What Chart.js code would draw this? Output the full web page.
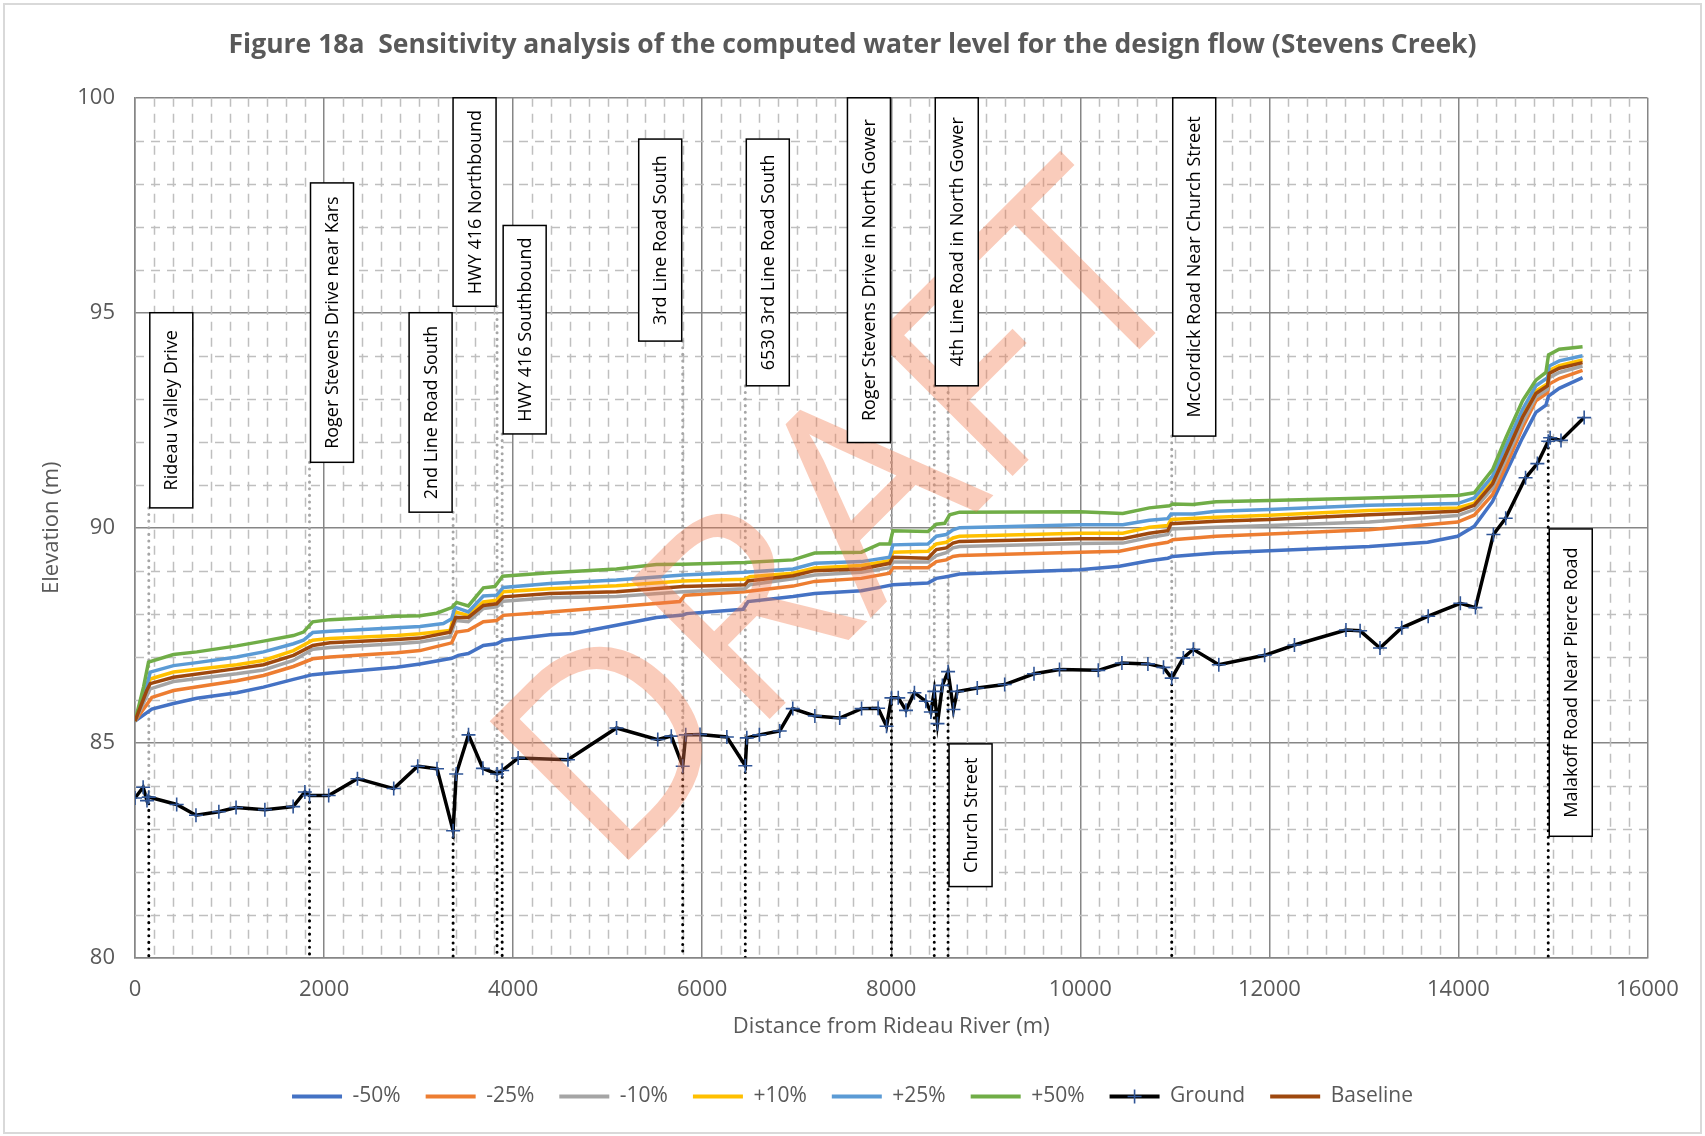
<!DOCTYPE html>
<html>
<head>
<meta charset="utf-8">
<script src="https://cdn.jsdelivr.net/npm/chart.js@4.4.0/dist/chart.umd.min.js"></script>
<style>
  html, body { margin: 0; padding: 0; background: #fff; }
</style>
</head>
<body>
<canvas id="profile" width="1705" height="1136"></canvas>
<script>
// water surface profiles, [distance (m), elevation (m)]
const minus50 = [[0,85.5],[178,85.78],[407,85.91],[654,86.03],[1077,86.16],[1359,86.29],[1676,86.47],[1880,86.58],[2063,86.62],[2768,86.75],[3015,86.83],[3350,86.96],[3420,87.03],[3526,87.07],[3685,87.26],[3826,87.3],[3896,87.38],[4389,87.51],[4635,87.54],[5093,87.73],[5516,87.91],[5798,87.97],[5834,88.0],[6433,88.1],[6486,88.28],[6961,88.4],[7190,88.47],[7684,88.53],[7877,88.61],[8018,88.67],[8388,88.71],[8477,88.82],[8582,88.86],[8723,88.92],[9991,89.02],[10414,89.1],[10731,89.23],[10925,89.29],[10978,89.33],[11436,89.41],[12000,89.46],[13057,89.56],[13674,89.66],[13991,89.8],[14167,90.03],[14361,90.61],[14502,91.27],[14678,92.09],[14819,92.68],[14925,92.85],[14953,93.06],[15066,93.24],[15313,93.49]];
const minus25 = [[0,85.5],[178,86.05],[407,86.21],[1077,86.44],[1359,86.56],[1676,86.77],[1880,86.95],[2063,86.99],[2768,87.09],[3015,87.14],[3350,87.32],[3402,87.57],[3526,87.61],[3685,87.81],[3826,87.84],[3896,87.96],[4389,88.04],[5093,88.16],[5763,88.28],[5816,88.43],[6450,88.51],[6961,88.64],[7190,88.75],[7684,88.82],[7983,88.94],[8018,89.07],[8388,89.07],[8477,89.21],[8582,89.25],[8653,89.33],[8723,89.35],[9991,89.43],[10414,89.45],[10731,89.59],[10925,89.66],[10978,89.72],[11436,89.8],[12000,89.85],[13057,89.95],[13991,90.13],[14167,90.29],[14361,90.77],[14502,91.43],[14678,92.33],[14819,92.95],[14943,93.14],[14960,93.34],[15066,93.47],[15313,93.66]];
const minus10 = [[0,85.5],[161,86.25],[407,86.42],[1077,86.6],[1359,86.69],[1676,86.91],[1880,87.17],[2063,87.21],[2768,87.3],[3015,87.34],[3332,87.46],[3392,87.84],[3526,87.81],[3685,88.12],[3826,88.16],[3896,88.29],[4389,88.37],[5093,88.4],[5798,88.51],[6450,88.58],[6503,88.67],[6961,88.81],[7190,88.9],[7684,88.96],[7983,89.07],[8018,89.2],[8388,89.2],[8477,89.35],[8582,89.42],[8653,89.53],[8723,89.56],[9991,89.63],[10449,89.64],[10731,89.77],[10925,89.84],[10960,89.97],[11436,90.01],[12000,90.05],[13057,90.13],[13991,90.28],[14167,90.42],[14361,90.92],[14502,91.59],[14678,92.44],[14819,93.04],[14943,93.22],[14960,93.49],[15066,93.61],[15313,93.76]];
const plus10 = [[0,85.5],[161,86.48],[407,86.64],[1077,86.81],[1359,86.91],[1676,87.14],[1880,87.38],[2063,87.42],[2768,87.49],[3015,87.53],[3332,87.61],[3385,88.04],[3526,87.96],[3685,88.27],[3826,88.31],[3896,88.51],[4389,88.58],[5093,88.65],[5798,88.76],[6450,88.8],[6503,88.86],[6961,88.94],[7190,89.06],[7684,89.12],[7983,89.23],[8018,89.43],[8388,89.45],[8477,89.62],[8582,89.66],[8653,89.76],[8723,89.8],[9991,89.87],[10449,89.87],[10731,90.01],[10925,90.05],[10960,90.19],[11436,90.24],[12000,90.29],[13057,90.4],[13991,90.46],[14167,90.57],[14361,91.08],[14502,91.78],[14678,92.64],[14819,93.18],[14943,93.35],[14960,93.66],[15066,93.77],[15313,93.9]];
const plus25 = [[0,85.5],[90,86.02],[161,86.64],[407,86.79],[654,86.86],[1077,86.99],[1359,87.11],[1676,87.3],[1782,87.38],[1880,87.56],[2063,87.59],[2416,87.63],[2768,87.67],[3015,87.7],[3262,87.77],[3350,87.88],[3385,88.15],[3526,88.04],[3685,88.41],[3826,88.43],[3896,88.61],[4389,88.7],[5093,88.78],[5798,88.9],[6450,88.96],[6961,89.04],[7190,89.17],[7684,89.21],[7983,89.31],[8018,89.6],[8388,89.62],[8477,89.8],[8582,89.84],[8653,89.95],[8723,90.0],[9991,90.07],[10449,90.07],[10731,90.17],[10925,90.21],[10960,90.32],[11190,90.32],[11436,90.38],[12000,90.42],[13057,90.52],[13991,90.56],[14167,90.69],[14361,91.2],[14502,91.9],[14678,92.75],[14819,93.3],[14943,93.49],[14960,93.76],[15066,93.88],[15313,94.0]];
const plus50 = [[0,85.5],[90,86.29],[143,86.87],[407,87.05],[654,87.11],[866,87.18],[1077,87.25],[1359,87.36],[1676,87.49],[1782,87.57],[1880,87.81],[2063,87.86],[2416,87.9],[2768,87.94],[3015,87.95],[3191,88.01],[3350,88.14],[3402,88.26],[3526,88.18],[3685,88.6],[3807,88.63],[3889,88.87],[4389,88.95],[5093,89.04],[5516,89.14],[5798,89.15],[6450,89.19],[6961,89.25],[7190,89.41],[7684,89.43],[7877,89.62],[7983,89.62],[8018,89.93],[8388,89.91],[8477,90.08],[8565,90.1],[8618,90.3],[8723,90.36],[9991,90.37],[10449,90.33],[10731,90.46],[10943,90.51],[10978,90.55],[11190,90.54],[11436,90.6],[12000,90.63],[13057,90.69],[13991,90.75],[14167,90.81],[14361,91.35],[14502,92.09],[14678,92.95],[14819,93.43],[14925,93.61],[14953,94.02],[15066,94.15],[15313,94.21]];
const baseline = [[0,85.5],[124,86.21],[161,86.37],[407,86.52],[1077,86.72],[1359,86.81],[1676,87.03],[1880,87.26],[2063,87.32],[2768,87.4],[3015,87.43],[3332,87.57],[3392,87.91],[3526,87.91],[3685,88.19],[3826,88.23],[3896,88.39],[4389,88.47],[5093,88.51],[5798,88.63],[6450,88.67],[6486,88.76],[6961,88.88],[7190,89.0],[7684,89.04],[7983,89.17],[8018,89.31],[8388,89.29],[8477,89.49],[8582,89.53],[8653,89.64],[8723,89.68],[9991,89.74],[10449,89.74],[10731,89.87],[10925,89.93],[10960,90.09],[11436,90.15],[12000,90.19],[13057,90.3],[13991,90.38],[14167,90.52],[14361,91.02],[14502,91.7],[14678,92.57],[14819,93.12],[14943,93.3],[14960,93.59],[15066,93.71],[15313,93.84]];
const ground = [[0,83.71],[86,83.96],[127,83.65],[146,83.73],[441,83.56],[645,83.31],[887,83.39],[1069,83.49],[1374,83.44],[1673,83.51],[1797,83.85],[1846,83.77],[2049,83.77],[2353,84.16],[2737,83.93],[2991,84.45],[3195,84.39],[3365,82.95],[3398,84.27],[3528,85.18],[3680,84.4],[3830,84.27],[3884,84.35],[4053,84.64],[4580,84.6],[5094,85.34],[5530,85.07],[5673,85.15],[5794,84.45],[5826,85.18],[5977,85.19],[6261,85.13],[6456,84.46],[6472,85.11],[6605,85.18],[6820,85.27],[6958,85.79],[7192,85.62],[7455,85.57],[7686,85.79],[7861,85.8],[7950,85.38],[8002,86.04],[8074,86.04],[8156,85.75],[8245,86.16],[8366,85.96],[8419,85.71],[8455,86.19],[8489,85.44],[8541,86.33],[8601,86.65],[8658,85.77],[8698,86.19],[8910,86.27],[9200,86.35],[9510,86.6],[9780,86.7],[10190,86.68],[10440,86.85],[10715,86.83],[10880,86.75],[10967,86.5],[11090,86.97],[11195,87.17],[11465,86.81],[11950,87.03],[12265,87.27],[12810,87.62],[12960,87.6],[13170,87.2],[13400,87.67],[13680,87.94],[14020,88.24],[14180,88.14],[14370,89.84],[14500,90.22],[14710,91.16],[14835,91.49],[14950,92.01],[14970,92.09],[15085,92.03],[15330,92.56]];

// crossings along the creek
const structNames = ['Rideau Valley Drive', 'Roger Stevens Drive near Kars', '2nd Line Road South', 'HWY 416 Northbound', 'HWY 416 Southbound', '3rd Line Road South', '6530 3rd Line Road South', 'Roger Stevens Drive in North Gower', '4th Line Road in North Gower', 'Church Street', 'McCordick Road Near Church Street', 'Malakoff Road Near Pierce Road'];
const structStations = [146, 1846, 3365, 3830, 3884, 5794, 6456, 8002, 8455, 8601, 10967, 14950];
const structGround = [83.73, 83.77, 82.95, 84.27, 84.35, 84.45, 84.46, 86.04, 86.19, 86.65, 86.5, 92.01];
const structTop = [90.46, 91.52, 90.36, 95.15, 92.18, 94.34, 93.3, 91.98, 93.3, 93.3, 92.13, 93.0];

const xTicks = [0, 2000, 4000, 6000, 8000, 10000, 12000, 14000, 16000];
const yTicks = [80, 85, 90, 95, 100];

// label boxes: side of the line, box bottom / top elevation
const labelBoxes = [
  { side: 'R', lo: 90.46, hi: 95.0 },
  { side: 'R', lo: 91.52, hi: 98.02 },
  { side: 'L', lo: 90.36, hi: 95.0 },
  { side: 'L', lo: 95.15, hi: 100 },
  { side: 'R', lo: 92.18, hi: 97.03 },
  { side: 'L', lo: 94.34, hi: 99.04 },
  { side: 'R', lo: 93.3, hi: 99.04 },
  { side: 'L', lo: 91.98, hi: 100 },
  { side: 'R', lo: 93.3, hi: 100 },
  { side: 'R', lo: 81.65, hi: 84.97 },
  { side: 'R', lo: 92.13, hi: 100 },
  { side: 'R', lo: 82.82, hi: 89.97 }
];

const FONT = '"Open Sans", "Noto Sans", sans-serif';
const toXY = arr => arr.map(p => ({ x: p[0], y: p[1] }));

function profile(label, data, color, order) {
  return { label, data: toXY(data), borderColor: color, backgroundColor: color,
    borderWidth: 3.5, pointRadius: 0, tension: 0, order };
}

const datasets = [
  profile('-50%', minus50, '#4472C4', 8),
  profile('-25%', minus25, '#ED7D31', 7),
  profile('-10%', minus10, '#A5A5A5', 6),
  profile('+10%', plus10, '#FFC000', 5),
  profile('+25%', plus25, '#5B9BD5', 4),
  profile('+50%', plus50, '#70AD47', 3),
  { label: 'Ground', data: toXY(ground), borderColor: '#000', backgroundColor: '#000',
    borderWidth: 3.5, tension: 0, order: 2, pointStyle: 'cross', pointRadius: 7,
    pointBorderColor: '#2F5597', pointBackgroundColor: '#2F5597', pointBorderWidth: 1.6 },
  profile('Baseline', baseline, '#9E480E', 1)
];

structStations.forEach((st, i) => {
  datasets.push({ label: 'deck' + i, data: [{ x: st, y: structTop[i] }, { x: st, y: structGround[i] }],
    borderColor: '#A6A6A6', borderWidth: 3, borderDash: [0.1, 6.5], borderCapStyle: 'round',
    pointRadius: 0, order: 20 });
  datasets.push({ label: 'pier' + i, data: [{ x: st, y: structGround[i] }, { x: st, y: 80 }],
    borderColor: '#000', borderWidth: 3, borderDash: [0.1, 6.5], borderCapStyle: 'round',
    pointRadius: 0, order: 19 });
});

// dashed minor grid
const minorGrid = {
  id: 'minorGrid',
  beforeDatasetsDraw(chart) {
    const { ctx, chartArea: a, scales: { x, y } } = chart;
    ctx.save();
    ctx.strokeStyle = '#BFBFBF';
    ctx.lineWidth = 1.5;
    ctx.setLineDash([9, 7]);
    ctx.beginPath();
    for (let v = 200; v < 16000; v += 200) {
      if (v % 2000 === 0) continue;
      const px = Math.round(x.getPixelForValue(v)) + 0.5;
      ctx.moveTo(px, a.top); ctx.lineTo(px, a.bottom);
    }
    for (let v = 81; v < 100; v++) {
      if (v % 5 === 0) continue;
      const py = Math.round(y.getPixelForValue(v)) + 0.5;
      ctx.moveTo(a.left, py); ctx.lineTo(a.right, py);
    }
    ctx.stroke();
    ctx.restore();
  }
};

// watermark and crossing labels
const overlays = {
  id: 'overlays',
  afterDatasetsDraw(chart) {
    const { ctx, scales: { x, y } } = chart;
    ctx.save();
    ctx.translate(836, 514);
    ctx.rotate(-45 * Math.PI / 180);
    ctx.font = '275px ' + FONT;
    ctx.fillStyle = 'rgba(242, 120, 75, 0.38)';
    ctx.textAlign = 'center';
    ctx.textBaseline = 'alphabetic';
    ctx.fillText('DRAFT', 0, 98);
    ctx.restore();

    const boxW = 43;
    labelBoxes.forEach((b, i) => {
      const xs = x.getPixelForValue(structStations[i]);
      const left = b.side === 'R' ? xs + 1 : xs - boxW - 1;
      const top = y.getPixelForValue(b.hi);
      const bottom = y.getPixelForValue(b.lo);
      ctx.save();
      ctx.fillStyle = '#fff';
      ctx.fillRect(left, top, boxW, bottom - top);
      ctx.strokeStyle = '#000';
      ctx.lineWidth = 1.5;
      ctx.strokeRect(left, top, boxW, bottom - top);
      ctx.translate(left + boxW / 2, (top + bottom) / 2);
      ctx.rotate(-Math.PI / 2);
      ctx.fillStyle = '#000';
      ctx.font = '18px ' + FONT;
      ctx.textAlign = 'center';
      ctx.textBaseline = 'middle';
      ctx.fillText(structNames[i], 0, 1);
      ctx.restore();
    });
  },
  afterDraw(chart) {
    const { ctx, legend } = chart;
    // marker on the Ground legend entry
    legend.legendItems.forEach((item, i) => {
      if (item.datasetIndex !== 6) return;
      const hb = legend.legendHitBoxes[i];
      const cx = hb.left + 25, cy = hb.top + hb.height / 2;
      ctx.save();
      ctx.strokeStyle = '#2F5597';
      ctx.lineWidth = 1.6;
      ctx.beginPath();
      ctx.moveTo(cx - 7, cy); ctx.lineTo(cx + 7, cy);
      ctx.moveTo(cx, cy - 7); ctx.lineTo(cx, cy + 7);
      ctx.stroke();
      ctx.restore();
    });
    ctx.save();
    ctx.strokeStyle = '#D9D9D9';
    ctx.lineWidth = 2;
    ctx.strokeRect(4, 4, 1697, 1129);
    ctx.restore();
  }
};

new Chart(document.getElementById('profile').getContext('2d'), {
  type: 'line',
  data: { datasets },
  options: {
    responsive: false,
    animation: false,
    devicePixelRatio: 1,
    layout: { padding: { left: 0, right: 0, top: 0, bottom: 19 } },
    plugins: {
      title: {
        display: true,
        text: 'Figure 18a  Sensitivity analysis of the computed water level for the design flow (Stevens Creek)',
        color: '#595959',
        font: { family: FONT, size: 26.5, weight: 'bold' },
        padding: { top: 30, bottom: 36 }
      },
      legend: {
        position: 'bottom',
        labels: {
          boxWidth: 50,
          boxHeight: 4,
          padding: 25,
          color: '#595959',
          font: { family: FONT, size: 21 },
          filter: item => item.datasetIndex < 8,
          sort: (a, b) => a.datasetIndex - b.datasetIndex,
          generateLabels: chart => Chart.defaults.plugins.legend.labels.generateLabels(chart)
            .map(l => Object.assign(l, { fillStyle: l.strokeStyle, lineWidth: 0 }))
        }
      },
      tooltip: { enabled: false }
    },
    scales: {
      x: {
        type: 'linear',
        min: 0,
        max: 16000,
        afterBuildTicks: s => { s.ticks = xTicks.map(v => ({ value: v })); },
        ticks: { color: '#595959', font: { family: FONT, size: 22 }, padding: 19, maxRotation: 0,
          callback: v => String(v) },
        grid: { color: '#868686', lineWidth: 1.5, drawTicks: false },
        border: { color: '#868686', width: 1.5 },
        title: { display: true, text: 'Distance from Rideau River (m)', color: '#595959',
          font: { family: FONT, size: 22 }, padding: { top: 0, bottom: 21 } },
        afterFit: s => { s.height = 103.5; s.paddingLeft = 0; s.paddingRight = 0; }
      },
      y: {
        type: 'linear',
        min: 80,
        max: 100,
        afterBuildTicks: s => { s.ticks = yTicks.map(v => ({ value: v })); },
        ticks: { color: '#595959', font: { family: FONT, size: 22 }, padding: 20,
          callback: v => String(v) },
        grid: { color: '#868686', lineWidth: 1.5, drawTicks: false },
        border: { color: '#868686', width: 1.5 },
        title: { display: true, text: 'Elevation (m)', color: '#595959',
          font: { family: FONT, size: 22 }, padding: { top: 39, bottom: 0 } },
        afterFit: s => { s.width = 135; s.paddingTop = 0; s.paddingBottom = 0; }
      },
      yR: {
        type: 'linear',
        position: 'right',
        min: 80,
        max: 100,
        ticks: { display: false },
        grid: { display: false, drawTicks: false },
        border: { display: false },
        afterFit: s => { s.width = 57.5; s.paddingTop = 0; s.paddingBottom = 0; }
      }
    }
  },
  plugins: [minorGrid, overlays]
});
</script>
</body>
</html>
